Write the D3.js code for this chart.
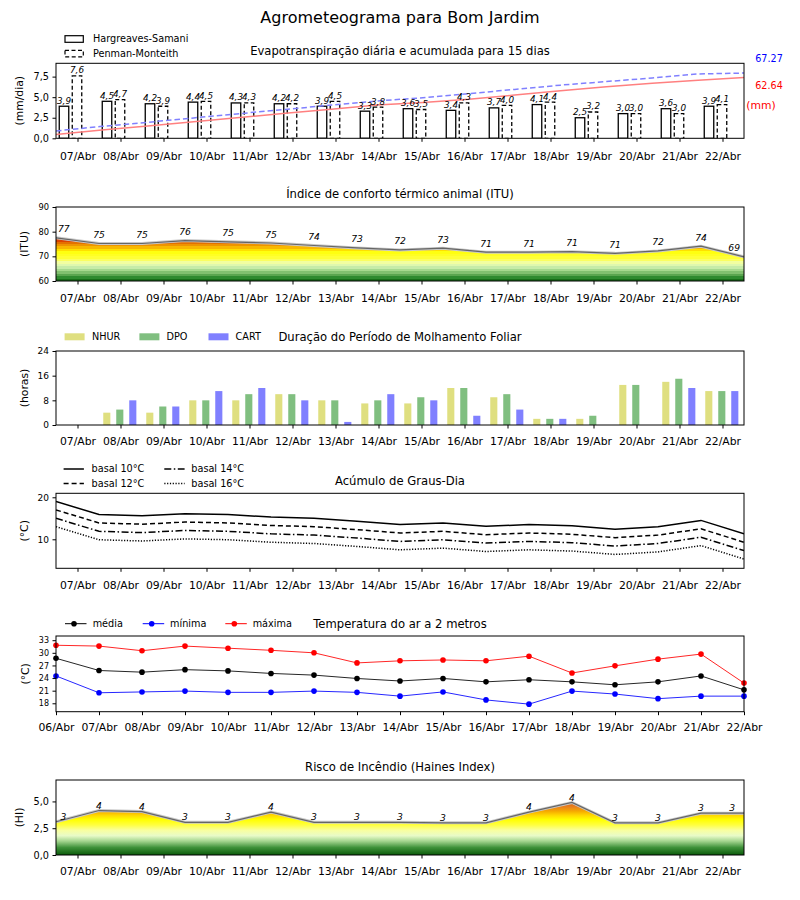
<!DOCTYPE html>
<html><head><meta charset="utf-8">
<script src="https://cdn.jsdelivr.net/npm/d3@7"></script>
<style>body{margin:0;background:#fff} svg{font-family:"DejaVu Sans",sans-serif;background:#fff}</style>
</head><body><svg id="c" width="800" height="900"></svg>
<script>
// ---------- DATA ----------
const dias = ["07/Abr","08/Abr","09/Abr","10/Abr","11/Abr","12/Abr","13/Abr","14/Abr","15/Abr","16/Abr","17/Abr","18/Abr","19/Abr","20/Abr","21/Abr","22/Abr"];
const diasTemp = ["06/Abr","07/Abr","08/Abr","09/Abr","10/Abr","11/Abr","12/Abr","13/Abr","14/Abr","15/Abr","16/Abr","17/Abr","18/Abr","19/Abr","20/Abr","21/Abr","22/Abr"];

const etHS = [3.9,4.5,4.2,4.4,4.3,4.2,3.9,3.3,3.6,3.4,3.7,4.1,2.5,3.0,3.6,3.9];
const etPM = [7.6,4.7,3.9,4.5,4.3,4.2,4.5,3.8,3.5,4.3,4.0,4.4,3.2,3.0,3.0,4.1];
const acumPM = [7.6,12.3,16.5,21.0,25.4,29.8,34.2,38.5,41.8,46.0,50.4,54.8,58.5,62.2,66.3,67.27];
const acumHS = [4.0,8.6,12.8,17.1,21.4,25.7,29.9,34.2,37.0,40.2,44.6,49.0,53.1,56.8,59.8,62.64];

const itu = [77.5,75.2,75.2,76.4,75.9,75.4,74.4,73.4,72.6,73.3,71.7,71.7,71.9,71.2,72.2,74.1,69.8];
const ituLab = [77,75,75,76,75,75,74,73,72,73,71,71,71,71,72,74,69];

const nhur = [0,4,4,8,8,10,8,7,7,12,9,2,2,13,14,11];
const dpo  = [0,5,6,8,10,10,8,8,9,12,10,2,3,13,15,11];
const cart = [0,8,6,11,12,8,1,10,8,3,5,2,0,0,12,11];

const gd10 = [19.0,15.9,15.6,16.1,15.9,15.3,15.0,14.3,13.5,13.9,13.1,13.5,13.2,12.4,13.0,14.5,11.3];
const gd12 = [17.0,13.9,13.6,14.1,13.9,13.3,13.0,12.3,11.5,11.9,11.1,11.5,11.2,10.4,11.0,12.5,9.3];
const gd14 = [15.0,11.9,11.6,12.1,11.9,11.3,11.0,10.3,9.5,9.9,9.1,9.5,9.2,8.4,9.0,10.5,7.3];
const gd16 = [13.0,9.9,9.6,10.1,9.9,9.3,9.0,8.3,7.5,7.9,7.1,7.5,7.2,6.4,7.0,8.5,5.3];

const tMed = [28.7,25.8,25.4,26.0,25.7,25.1,24.7,23.9,23.3,23.9,23.1,23.6,23.1,22.4,23.1,24.5,21.2];
const tMin = [24.5,20.5,20.7,20.9,20.6,20.6,20.9,20.6,19.7,20.7,18.8,17.8,20.9,20.2,19.1,19.7,19.7];
const tMax = [31.8,31.6,30.5,31.6,31.1,30.6,30.0,27.6,28.1,28.3,28.1,29.2,25.2,26.9,28.5,29.7,22.8];

const haines = [3.1,4.15,4.05,3.05,3.05,4.0,3.05,3.05,3.05,3.0,3.0,4.0,4.9,3.0,3.0,3.9,3.9];
const hainesLab = [3,4,4,3,3,4,3,3,3,3,3,4,4,3,3,3,3];

// ---------- SETUP ----------
const svg = d3.select("#c");
const defs = svg.append("defs");
const FONT = "DejaVu Sans";
const L = 56, R = 744;
const xDay = d3.scaleLinear().domain([-0.5, 15.5]).range([L, R]);
const dayIdx = d3.range(16);
const ptIdx = d3.range(17);
const comma = v => d3.format(".1f")(v).replace(".", ",");

function txt(x, y, s, size, opts = {}) {
  const t = svg.append("text").attr("x", x).attr("y", y).text(s)
    .attr("font-size", size).attr("font-family", FONT)
    .attr("text-anchor", opts.anchor || "middle")
    .attr("fill", opts.fill || "#000");
  if (opts.italic) t.attr("font-style", "italic");
  if (opts.center) t.attr("dy", "0.35em");
  return t;
}
function frame(top, bottom) {
  svg.append("rect").attr("x", L).attr("y", top).attr("width", R - L).attr("height", bottom - top)
    .attr("fill", "none").attr("stroke", "#000").attr("stroke-width", 1);
}
function styleAxis(g, fs) {
  g.select(".domain").remove();
  g.attr("font-family", FONT).attr("font-size", fs);
  g.selectAll("text").attr("fill", "#000");
  g.selectAll("line").attr("stroke", "#000");
}
function xAxis(scale, vals, labels, y, pad) {
  const g = svg.append("g").attr("transform", `translate(0,${y})`)
    .call(d3.axisBottom(scale).tickValues(vals).tickFormat((d, i) => labels[i]).tickSize(3.5).tickPadding(pad));
  styleAxis(g, 10.8);
}
function yAxis(scale, vals, fmt, fs) {
  const g = svg.append("g").attr("transform", `translate(${L},0)`)
    .call(d3.axisLeft(scale).tickValues(vals).tickFormat(fmt).tickSize(3.5).tickPadding(3.5));
  styleAxis(g, fs);
}
function yLabel(x, cy, s) {
  svg.append("text").attr("transform", `translate(${x},${cy}) rotate(-90)`)
    .attr("text-anchor", "middle").attr("dy", "0.35em")
    .attr("font-size", 10.8).attr("font-family", FONT).text(s);
}
function clip(id, top, bottom) {
  defs.append("clipPath").attr("id", id).append("rect")
    .attr("x", L).attr("y", top).attr("width", R - L).attr("height", bottom - top);
}

// Main title
txt(400, 17, "Agrometeograma para Bom Jardim", 16, { center: true });

// ---------- PANEL 1: Evapotranspiração ----------
{
  const top = 63.3, bot = 138.3;
  const y = d3.scaleLinear().domain([0, 9.12]).range([bot, top]);
  const y2 = d3.scaleLinear().domain([0, 77.3]).range([bot, top]);
  const xc = d3.scaleLinear().domain([0, 15]).range([L, R]);
  const bw = 9.5;
  clip("c1", top, bot);
  const gb = svg.append("g").attr("clip-path", "url(#c1)");
  gb.selectAll(".hs").data(etHS).join("rect")
    .attr("x", (d, i) => xDay(i) - 13.5 - bw / 2).attr("width", bw)
    .attr("y", d => y(d)).attr("height", d => y(0) - y(d))
    .attr("fill", "#fff").attr("stroke", "#000").attr("stroke-width", 1.3);
  gb.selectAll(".pm").data(etPM).join("rect")
    .attr("x", (d, i) => xDay(i) - 0.5 - bw / 2).attr("width", bw)
    .attr("y", d => y(d)).attr("height", d => y(0) - y(d))
    .attr("fill", "#fff").attr("stroke", "#000").attr("stroke-width", 1.3).attr("stroke-dasharray", "4,2.5");
  etHS.forEach((d, i) => txt(xDay(i) - 13.5, y(d) - 2.5, comma(d), 8.8, { italic: true }));
  etPM.forEach((d, i) => txt(xDay(i) - 0.5, y(d) - 2.5, comma(d), 8.8, { italic: true }));
  const line = d3.line().x((d, i) => xc(i)).y(d => y2(d));
  gb.append("path").attr("d", line(acumHS)).attr("fill", "none").attr("stroke", "#ff8080").attr("stroke-width", 1.5);
  gb.append("path").attr("d", line(acumPM)).attr("fill", "none").attr("stroke", "#8080ff").attr("stroke-width", 1.5).attr("stroke-dasharray", "5.5,3");
  frame(top, bot);
  yAxis(y, [0, 2.5, 5, 7.5], comma, 9.7);
  xAxis(xDay, dayIdx, dias, bot, 11);
  yLabel(19, (top + bot) / 2, "(mm/dia)");
  txt(400, 50.7, "Evapotranspiração diária e acumulada para 15 dias", 11.6, { center: true });
  txt(769, 58.5, "67.27", 9.6, { center: true, fill: "#0000ff" });
  txt(769, 85.5, "62.64", 9.6, { center: true, fill: "#ff0000" });
  txt(761, 105.3, "(mm)", 10.8, { center: true, fill: "#ff0000" });
  // legend
  svg.append("rect").attr("x", 65).attr("y", 35.7).attr("width", 18.3).attr("height", 6.6)
    .attr("fill", "#fff").attr("stroke", "#000").attr("stroke-width", 1.2);
  svg.append("rect").attr("x", 65).attr("y", 50.3).attr("width", 18.3).attr("height", 6.6)
    .attr("fill", "#fff").attr("stroke", "#000").attr("stroke-width", 1.2).attr("stroke-dasharray", "4,2.5");
  txt(93, 39, "Hargreaves-Samani", 9.7, { anchor: "start", center: true });
  txt(93, 53.5, "Penman-Monteith", 9.7, { anchor: "start", center: true });
}

// ---------- PANEL 2: ITU ----------
{
  const top = 207, bot = 281;
  const y = d3.scaleLinear().domain([60, 90]).range([bot, top]);
  const pal = d3.scaleLinear()
    .domain([60, 61.5, 63, 64.5, 66, 67.5, 69, 71.5, 72.5, 73.5, 74.5, 75.5, 76.5, 77.5])
    .range(["#0d600d", "#2f8a2f", "#6fb35f", "#a6d98e", "#d6f5b5", "#f2ffa0", "#ffff40", "#ffff10", "#ffe000", "#f8b800", "#ee9400", "#e47000", "#dc4400", "#cc0000"])
    .clamp(true);
  const gr = defs.append("linearGradient").attr("id", "gITU").attr("gradientUnits", "userSpaceOnUse")
    .attr("x1", 0).attr("x2", 0).attr("y1", y(60)).attr("y2", y(78));
  d3.range(60, 78).forEach(v => {
    const c = pal(v + 0.5);
    gr.append("stop").attr("offset", (v - 60) / 18).attr("stop-color", c);
    gr.append("stop").attr("offset", (v + 1 - 60) / 18).attr("stop-color", c);
  });
  clip("c2", top, bot);
  const g = svg.append("g").attr("clip-path", "url(#c2)");
  const xp = (d, j) => xDay(j - 0.5);
  g.append("path").attr("d", d3.area().x(xp).y0(y(60)).y1(d => y(d))(itu)).attr("fill", "url(#gITU)");
  g.append("path").attr("d", d3.line().x(xp).y(d => y(d))(itu)).attr("fill", "none").attr("stroke", "#c8c8c8").attr("stroke-width", 3);
  g.append("path").attr("d", d3.line().x(xp).y(d => y(d))(itu)).attr("fill", "none").attr("stroke", "#666").attr("stroke-width", 1.2);
  ituLab.forEach((v, j) => {
    const px = xDay(j - 0.5), py = y(itu[j]) - 5.5;
    if (j === 0) txt(px + 2, py, v, 9.2, { italic: true, anchor: "start" });
    else if (j === 16) txt(px - 4, py, v, 9.2, { italic: true, anchor: "end" });
    else txt(px, py, v, 9.2, { italic: true });
  });
  frame(top, bot);
  yAxis(y, [60, 70, 80, 90], d => d, 8.3);
  xAxis(xDay, dayIdx, dias, bot, 9.8);
  yLabel(24, (top + bot) / 2, "(ITU)");
  txt(400, 194, "Índice de conforto térmico animal (ITU)", 11.6, { center: true });
}

// ---------- PANEL 3: Molhamento foliar ----------
{
  const top = 351, bot = 425;
  const y = d3.scaleLinear().domain([0, 24]).range([bot, top]);
  const bw = 7.1;
  const series = [[nhur, "#dfdf80", -13.7], [dpo, "#80bf80", -0.7], [cart, "#8080ff", 12.3]];
  series.forEach(([arr, col, off]) => {
    svg.append("g").selectAll("rect").data(arr).join("rect")
      .attr("x", (d, i) => xDay(i) + off - bw / 2).attr("width", bw)
      .attr("y", d => y(d)).attr("height", d => y(0) - y(d)).attr("fill", col);
  });
  frame(top, bot);
  yAxis(y, [0, 8, 16, 24], d => d, 9);
  xAxis(xDay, dayIdx, dias, bot, 9.3);
  yLabel(24, (top + bot) / 2, "(horas)");
  txt(400, 337, "Duração do Período de Molhamento Foliar", 11.6, { center: true });
  const leg = [["NHUR", "#dfdf80", 64.6, 92], ["DPO", "#80bf80", 139.4, 166.5], ["CART", "#8080ff", 208.5, 235.5]];
  leg.forEach(([n, c, sx, tx]) => {
    svg.append("rect").attr("x", sx).attr("y", 333.3).attr("width", 20).attr("height", 7).attr("fill", c);
    txt(tx, 337, n, 9.7, { anchor: "start", center: true });
  });
}

// ---------- PANEL 4: Graus-dia ----------
{
  const top = 493.3, bot = 568.3;
  const y = d3.scaleLinear().domain([3.1, 20.95]).range([bot, top]);
  const xp = (d, j) => xDay(j - 0.5);
  const line = d3.line().x(xp).y(d => y(d));
  const sty = [[gd10, null, "basal 10°C"], [gd12, "5,3", "basal 12°C"], [gd14, "7,2.5,1.5,2.5", "basal 14°C"], [gd16, "1.2,1.6", "basal 16°C"]];
  clip("c4", top, bot);
  const g = svg.append("g").attr("clip-path", "url(#c4)");
  sty.forEach(([arr, dash]) => {
    const p = g.append("path").attr("d", line(arr)).attr("fill", "none").attr("stroke", "#000").attr("stroke-width", 1.5);
    if (dash) p.attr("stroke-dasharray", dash);
  });
  frame(top, bot);
  yAxis(y, [10, 20], d => d, 9);
  xAxis(xDay, dayIdx, dias, bot, 9.6);
  yLabel(24, (top + bot) / 2, "(°C)");
  txt(400, 481, "Acúmulo de Graus-Dia", 11.6, { center: true });
  const pos = [[63.6, 91.6, 469], [63.6, 91.6, 483.5], [164.3, 191.3, 469], [164.3, 191.3, 483.5]];
  sty.forEach(([arr, dash, name], k) => {
    const [lx, tx, ly] = pos[k];
    const l = svg.append("line").attr("x1", lx).attr("x2", lx + 20.3).attr("y1", ly).attr("y2", ly)
      .attr("stroke", "#000").attr("stroke-width", 1.5);
    if (dash) l.attr("stroke-dasharray", dash);
    txt(tx, ly, name, 9.7, { anchor: "start", center: true });
  });
}

// ---------- PANEL 5: Temperatura ----------
{
  const top = 636, bot = 711.7;
  const y = d3.scaleLinear().domain([16, 34]).range([bot, top]);
  const xt = d3.scaleLinear().domain([0, 16]).range([L, R]);
  const line = d3.line().x((d, j) => xt(j)).y(d => y(d));
  const ser = [[tMed, "#000", "média", 65, 92.7], [tMin, "#0000ff", "mínima", 142.7, 170], [tMax, "#ff0000", "máxima", 225.3, 252.7]];
  clip("c5", top - 4, bot + 4);
  const g = svg.append("g");
  ser.forEach(([arr, col]) => {
    g.append("path").attr("d", line(arr)).attr("fill", "none").attr("stroke", col).attr("stroke-width", 1).attr("stroke-opacity", 0.85);
    g.selectAll(null).data(arr).join("circle").attr("cx", (d, j) => xt(j)).attr("cy", d => y(d)).attr("r", 2.8).attr("fill", col);
  });
  frame(top, bot);
  yAxis(y, [18, 21, 24, 27, 30, 33], d => d, 8);
  xAxis(xt, ptIdx, diasTemp, bot, 8.2);
  yLabel(25, (top + bot) / 2, "(°C)");
  txt(400, 624, "Temperatura do ar a 2 metros", 11.6, { center: true });
  ser.forEach(([arr, col, name, lx, tx]) => {
    svg.append("line").attr("x1", lx).attr("x2", lx + 21.5).attr("y1", 623.7).attr("y2", 623.7).attr("stroke", col).attr("stroke-width", 1);
    svg.append("circle").attr("cx", lx + 9).attr("cy", 623.7).attr("r", 2.8).attr("fill", col);
    txt(tx, 623.7, name, 9.7, { anchor: "start", center: true });
  });
}

// ---------- PANEL 6: Haines ----------
{
  const top = 780, bot = 855;
  const y = d3.scaleLinear().domain([0, 7]).range([bot, top]);
  const gr = defs.append("linearGradient").attr("id", "gH").attr("gradientUnits", "userSpaceOnUse")
    .attr("x1", 0).attr("x2", 0).attr("y1", y(0)).attr("y2", y(5));
  const stops = [[0, "#0a5a0a"], [0.7, "#3f923a"], [1.3, "#a5d690"], [1.8, "#e8fbc8"], [2.3, "#f8ffa0"], [2.8, "#ffff40"], [3.3, "#ffff00"], [3.7, "#ffd800"], [4.1, "#f5a800"], [4.5, "#e88020"], [4.9, "#d86010"], [5, "#d05a10"]];
  stops.forEach(([v, c]) => gr.append("stop").attr("offset", v / 5).attr("stop-color", c));
  clip("c6", top, bot);
  const g = svg.append("g").attr("clip-path", "url(#c6)");
  const xp = (d, j) => xDay(j - 0.5);
  g.append("path").attr("d", d3.area().x(xp).y0(y(0)).y1(d => y(d))(haines)).attr("fill", "url(#gH)");
  g.append("path").attr("d", d3.line().x(xp).y(d => y(d))(haines)).attr("fill", "none").attr("stroke", "#c8c8c8").attr("stroke-width", 3);
  g.append("path").attr("d", d3.line().x(xp).y(d => y(d))(haines)).attr("fill", "none").attr("stroke", "#666").attr("stroke-width", 1.2);
  hainesLab.forEach((v, j) => {
    const px = xDay(j - 0.5), py = y(haines[j]) - 2;
    if (j === 0) txt(px + 4.5, py, v, 9.2, { italic: true, anchor: "start" });
    else if (j === 16) txt(px - 9, py, v, 9.2, { italic: true, anchor: "end" });
    else txt(px, py, v, 9.2, { italic: true });
  });
  frame(top, bot);
  yAxis(y, [0, 2.5, 5], comma, 9.7);
  xAxis(xDay, dayIdx, dias, bot, 9.3);
  yLabel(19, (top + bot) / 2, "(HI)");
  txt(400, 767, "Risco de Incêndio (Haines Index)", 11.6, { center: true });
}
</script></body></html>
